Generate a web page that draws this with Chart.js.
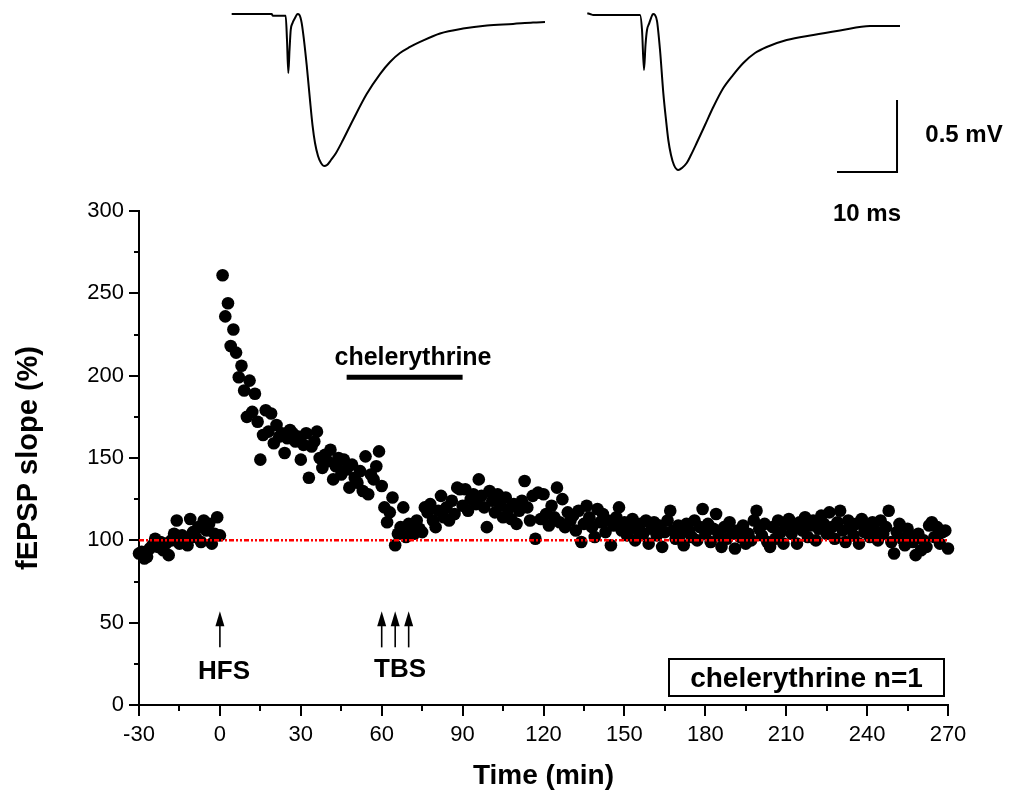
<!DOCTYPE html>
<html>
<head>
<meta charset="utf-8">
<script src="https://cdn.jsdelivr.net/npm/chart.js@4.4.1/dist/chart.umd.min.js"></script>
<style>
  html, body { margin: 0; padding: 0; background: #fff; }
  #wrap { position: relative; width: 1010px; height: 796px; font-family: "Liberation Sans", Arial, sans-serif; }
  #main { position: absolute; left: 0; top: 0; }
  #traces { position: absolute; left: 230px; top: 0; }
  .lbl { position: absolute; font-weight: bold; color: #000; white-space: nowrap; line-height: 1; transform: translate(-50%, -50%); }
  #legendBox { position: absolute; left: 668px; top: 658px; width: 273px; height: 35px; border: 2px solid #000;
               font-weight: bold; font-size: 28px; line-height: 35px; text-align: center; }
</style>
</head>
<body>
<div id="wrap">
  <canvas id="main" width="1010" height="796"></canvas>
  <canvas id="traces" width="780" height="180"></canvas>
  <div class="lbl" style="left:964px; top:134px; font-size:24px;">0.5 mV</div>
  <div class="lbl" style="left:867px; top:213px; font-size:24px;">10 ms</div>
  <div class="lbl" style="left:413px; top:356px; font-size:25px;">chelerythrine</div>
  <div class="lbl" style="left:224px; top:670px; font-size:26px;">HFS</div>
  <div class="lbl" style="left:400px; top:668px; font-size:26px;">TBS</div>
  <div id="legendBox">chelerythrine n=1</div>
</div>
<script>
// ── fEPSP slope, one point per minute ──
const timeMin = [];
for (let t = -30; t <= 270; t++) timeMin.push(t);

const slopePct = [
  92, 93, 89, 90, 95, 97, 101, 96, 99, 94,
  98, 91, 100, 104, 112, 98, 103, 101, 97, 113,
  105, 102, 108, 99, 112, 106, 110, 98, 104, 114,
  103, 261, 236, 244, 218, 228, 214, 199, 206, 191,
  175, 197, 178, 189, 172, 149, 164, 179, 166, 177,
  159, 170, 163, 165, 153, 162, 167, 165, 160, 163,
  149, 158, 165, 138, 157, 160, 166, 150, 144, 152,
  148, 155, 137, 145, 150, 140, 149, 143, 132, 146,
  138, 135, 142, 130, 151, 128, 140, 137, 145, 154,
  133, 120, 111, 117, 126, 97, 104, 108, 120, 102,
  110, 106, 104, 112, 107, 105, 120, 117, 122, 112,
  108, 118, 127, 114, 120, 112, 124, 116, 132, 131,
  121, 131, 118, 125, 128, 122, 137, 127, 120, 108,
  130, 124, 117, 128, 121, 114, 126, 119, 113, 122,
  110, 118, 124, 136, 120, 112, 127, 101, 129, 113,
  128, 116, 109, 121, 114, 132, 111, 125, 108, 117,
  112, 115, 106, 118, 99, 110, 121, 114, 108, 102,
  119, 111, 116, 105, 112, 97, 109, 114, 120, 106,
  111, 103, 108, 113, 100, 106, 110, 104, 112, 98,
  107, 111, 103, 109, 96, 105, 112, 118, 106, 101,
  109, 104, 97, 110, 106, 102, 112, 100, 108, 119,
  104, 110, 99, 107, 116, 103, 96, 108, 101, 111,
  104, 95, 106, 102, 109, 98, 104, 100, 112, 118,
  107, 103, 110, 99, 96, 108, 101, 112, 105, 98,
  110, 113, 104, 108, 98, 111, 106, 114, 102, 109,
  112, 100, 107, 115, 110, 104, 117, 108, 101, 111,
  118, 106, 99, 112, 107, 103, 110, 98, 113, 105,
  109, 102, 111, 106, 100, 112, 104, 108, 118, 99,
  92, 105, 110, 101, 97, 107, 103, 99, 91, 104,
  94, 100, 96, 109, 111, 102, 108, 98, 105, 106,
  95
];

const baselineX = [-30, 270];
const baselineY = [100, 100];
const drugX = [47, 90];
const drugY = [199, 199];
const arrowTimes = [0, 60, 65, 70];
const arrowTip = 57;
const arrowBase = 35;

const xTicks = [-30, 0, 30, 60, 90, 120, 150, 180, 210, 240, 270];
const xMinor = [-15, 15, 45, 75, 105, 135, 165, 195, 225, 255];
const yMinor = [25, 75, 125, 175, 225, 275];

// ── example traces (ms, mV) ──
const trace1Ms = [0.28, 6.95, 7.12, 9.28, 9.5, 9.72, 9.92, 10.12, 10.42, 10.83, 11.25, 11.58, 11.95, 12.33,
  12.78, 13.33, 13.75, 14.17, 14.67, 15.17, 15.67, 16.17, 16.83, 17.67, 18.83, 20.5, 22.78, 25, 26.67,
  28.33, 30, 31.67, 35, 38.83, 42.83, 47.17, 50.5, 52.5];
const trace1mV = [0, 0, -0.012, -0.012, -0.181, -0.41, -0.25, -0.111, -0.063, -0.028, 0, -0.007, -0.063, -0.181,
  -0.354, -0.597, -0.771, -0.896, -0.986, -1.035, -1.056, -1.049, -1.014, -0.965, -0.875, -0.736, -0.556, -0.417, -0.333,
  -0.271, -0.229, -0.194, -0.135, -0.101, -0.08, -0.069, -0.059, -0.056];
const trace2Ms = [59.55, 60, 60.55, 68.33, 68.67, 69, 69.25, 69.5, 69.83, 70.17, 70.5, 70.83, 71.17, 71.67,
  72.22, 72.67, 73.05, 73.5, 74, 74.72, 75.33, 76.12, 76.83, 77.78, 79.17, 80.55, 82.22, 83.83, 85.55,
  87.5, 89.45, 92.78, 97.22, 101.67, 106.67, 111.67];
const trace2mV = [0.005, 0, -0.007, -0.007, -0.111, -0.389, -0.215, -0.111, -0.069, -0.028, 0, -0.007, -0.049, -0.25,
  -0.549, -0.736, -0.875, -0.979, -1.049, -1.083, -1.069, -1.035, -0.979, -0.896, -0.771, -0.646, -0.514, -0.424, -0.34,
  -0.271, -0.229, -0.181, -0.146, -0.115, -0.083, -0.083];
const scaleBarMs = [101.17, 111.17, 111.17];
const scaleBarmV = [-1.097, -1.097, -0.597];

const pairs = (xs, ys) => xs.map((v, i) => ({ x: v, y: ys[i] }));

Chart.defaults.font.family = '"Liberation Sans", Arial, sans-serif';
Chart.defaults.color = '#000';

const extras = {
  id: 'extras',
  afterDraw(chart) {
    const { ctx, scales: { x, y } } = chart;
    ctx.save();
    ctx.strokeStyle = '#000';
    ctx.fillStyle = '#000';
    ctx.lineWidth = 2;
    xMinor.forEach(v => {
      const px = Math.round(x.getPixelForValue(v));
      ctx.beginPath(); ctx.moveTo(px, y.bottom); ctx.lineTo(px, y.bottom + 6); ctx.stroke();
    });
    yMinor.forEach(v => {
      const py = Math.round(y.getPixelForValue(v));
      ctx.beginPath(); ctx.moveTo(x.left, py); ctx.lineTo(x.left - 5, py); ctx.stroke();
    });
    // stimulation arrows
    ctx.lineWidth = 1.6;
    arrowTimes.forEach(t => {
      const px = x.getPixelForValue(t);
      const tip = y.getPixelForValue(arrowTip);
      const base = y.getPixelForValue(arrowBase);
      ctx.beginPath(); ctx.moveTo(px, base); ctx.lineTo(px, tip + 10); ctx.stroke();
      ctx.beginPath();
      ctx.moveTo(px, tip); ctx.lineTo(px - 4.5, tip + 15); ctx.lineTo(px + 4.5, tip + 15);
      ctx.closePath(); ctx.fill();
    });
    ctx.restore();
  }
};

new Chart(document.getElementById('main'), {
  type: 'scatter',
  data: {
    datasets: [
      {
        data: pairs(baselineX, baselineY),
        showLine: true, borderColor: '#ff0000', borderWidth: 2.5,
        borderDash: [5, 2, 2, 2, 2, 2], pointRadius: 0
      },
      {
        data: pairs(drugX, drugY),
        showLine: true, borderColor: '#000', borderWidth: 5, pointRadius: 0
      },
      {
        data: pairs(timeMin, slopePct),
        showLine: false, pointRadius: 6.3, pointBorderWidth: 0,
        pointBackgroundColor: '#000', pointHoverRadius: 6.3, clip: false
      }
    ]
  },
  options: {
    responsive: false,
    animation: false,
    layout: { padding: { top: 211, right: 62, bottom: 0, left: 0 } },
    plugins: { legend: { display: false }, tooltip: { enabled: false } },
    scales: {
      x: {
        type: 'linear', min: -30, max: 270,
        afterFit: s => { s.height = 91; },
        afterBuildTicks: s => { s.ticks = xTicks.map(v => ({ value: v })); },
        ticks: { font: { size: 22 }, color: '#000', padding: 6, maxRotation: 0, autoSkip: false },
        grid: { drawOnChartArea: false, drawTicks: true, tickLength: 11, color: '#000', lineWidth: 2 },
        border: { color: '#000', width: 2 },
        title: { display: true, text: 'Time (min)', font: { size: 28, weight: 'bold' }, color: '#000',
                 padding: { top: 0, bottom: 3 } }
      },
      y: {
        min: 0, max: 300,
        afterFit: s => { s.width = 139; },
        ticks: { stepSize: 50, font: { size: 22 }, color: '#000', padding: 5 },
        grid: { drawOnChartArea: false, drawTicks: true, tickLength: 10, color: '#000', lineWidth: 2 },
        border: { color: '#000', width: 2 },
        title: { display: true, text: 'fEPSP slope (%)', font: { size: 29, weight: 'bold' }, color: '#000',
                 padding: { top: 12, bottom: 0 } }
      }
    }
  },
  plugins: [extras]
});

new Chart(document.getElementById('traces'), {
  type: 'scatter',
  data: {
    datasets: [
      { data: pairs(trace1Ms, trace1mV), showLine: true, cubicInterpolationMode: 'monotone',
        borderColor: '#000', borderWidth: 2, pointRadius: 0, clip: false },
      { data: pairs(trace2Ms, trace2mV), showLine: true, cubicInterpolationMode: 'monotone',
        borderColor: '#000', borderWidth: 2, pointRadius: 0, clip: false },
      { data: pairs(scaleBarMs, scaleBarmV), showLine: true, tension: 0,
        borderColor: '#000', borderWidth: 2, pointRadius: 0, clip: false }
    ]
  },
  options: {
    responsive: false,
    animation: false,
    layout: { padding: 0 },
    plugins: { legend: { display: false }, tooltip: { enabled: false } },
    scales: {
      x: { type: 'linear', min: 0, max: 130, display: false },
      y: { min: -1.1528, max: 0.0972, display: false }
    }
  }
});
</script>
</body>
</html>
